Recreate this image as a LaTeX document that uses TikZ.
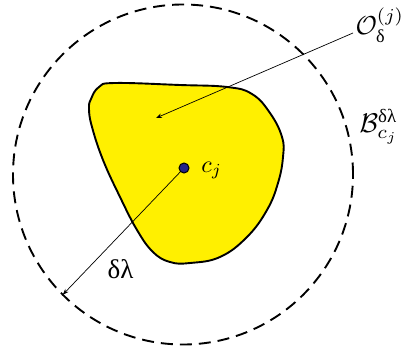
\documentclass[tikz,border=0pt]{standalone}
\usepackage{amsmath,amsfonts}
\usepackage{fontspec}
\newfontfamily\grk{Liberation Serif}
\usepackage{tikz}
\usetikzlibrary{arrows.meta, positioning, calc}

\definecolor{blobyellow}{RGB}{255,240,0}
\definecolor{dotblue}{RGB}{35,35,135}

\begin{document}
\begin{tikzpicture}[
        x=1pt, y=1pt,
        blob/.style={
            draw=black,
            fill=blobyellow,
            line width=1.9pt
        },
        rim/.style={draw=black, line width=1.9pt, dash pattern=on 12pt off 7pt},
        line/.style={draw, -{Stealth[length=6pt,width=4.5pt]}, line width=0.7pt},
        lbl/.style={inner sep=0pt, anchor=base west, transform shape, scale=#1}
    ]
        \useasboundingbox (0,0) rectangle (403,354);

        % ball and set
        \coordinate (ctr) at (183,179.5);
        \draw [rim] (ctr) circle (170);
        \path [blob] plot [smooth cycle, tension=0.7] coordinates {
            (91,255) (99,267) (115,271) (180,269) (227,267) (252,260)
            (270,241) (282,217) (283,197) (278,171) (267,144) (247,117)
            (220,97) (190,91) (170,92) (153,102) (137,124) (120,157)
            (103,194) (92,227) (89,245)};

        % nodes
        \node [circle, draw=black, fill=dotblue, line width=1pt, minimum size=10pt, inner sep=0pt] (cj) at (184,186) {};
        \node [lbl=2.4] (cjlbl) at (201,182) {$c_j$};
        \node [lbl=2.6] (olbl) at (355,319) {$\mathcal{O}_{\text{\grk δ}}^{(j)}$};
        \node [lbl=2.7] (blbl) at (359,222) {$\mathcal{B}_{c_j}^{\text{\grk δλ}}$};
        \node [lbl=2.7] (dlbl) at (107,76) {\grk δλ};
        \coordinate (rimpt) at ($(ctr)+(225:170)$);
        \coordinate (oend) at (353,321);
        \coordinate (inner) at (156,236);

        % paths
        \path [line] (oend) -- (inner);
        \path [line] (cj) -- (rimpt);

    \end{tikzpicture}
\end{document}
